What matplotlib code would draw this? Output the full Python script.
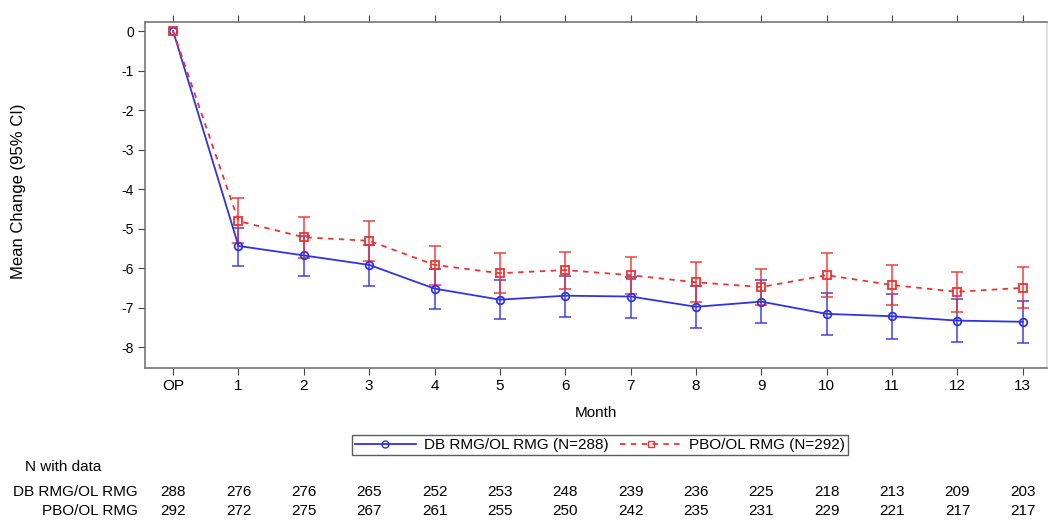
import matplotlib.pyplot as plt
from matplotlib.lines import Line2D

plt.rcParams['font.family'] = ['Liberation Sans', 'DejaVu Sans']

# data
months = ['OP', '1', '2', '3', '4', '5', '6', '7', '8', '9', '10', '11', '12', '13']
db_mean = [0, -5.44, -5.68, -5.92, -6.52, -6.80, -6.70, -6.72, -6.98, -6.85, -7.16, -7.22, -7.33, -7.36]
db_lo = [0, -5.95, -6.20, -6.45, -7.04, -7.28, -7.23, -7.27, -7.52, -7.40, -7.70, -7.80, -7.87, -7.90]
db_hi = [0, -4.98, -5.18, -5.42, -6.02, -6.30, -6.20, -6.22, -6.45, -6.30, -6.64, -6.66, -6.78, -6.84]
pbo_mean = [0, -4.81, -5.22, -5.31, -5.92, -6.13, -6.05, -6.18, -6.36, -6.48, -6.18, -6.43, -6.60, -6.50]
pbo_lo = [0, -5.37, -5.74, -5.83, -6.42, -6.63, -6.53, -6.66, -6.87, -6.93, -6.73, -6.93, -7.10, -7.02]
pbo_hi = [0, -4.23, -4.71, -4.81, -5.44, -5.63, -5.59, -5.71, -5.85, -6.03, -5.63, -5.92, -6.10, -5.97]
n_db = [288, 276, 276, 265, 252, 253, 248, 239, 236, 225, 218, 213, 209, 203]
n_pbo = [292, 272, 275, 267, 261, 255, 250, 242, 235, 231, 229, 221, 217, 217]

blue = '#3333dd'
red = '#ee3333'
fs = 11

fig = plt.figure(figsize=(10.52, 5.2), dpi=100)
ax = fig.add_axes([145 / 1052, 1 - 368 / 520, (1047 - 145) / 1052, (368 - 22) / 520])

x = list(range(len(months)))
db_err = [[m - l for m, l in zip(db_mean, db_lo)], [h - m for m, h in zip(db_mean, db_hi)]]
pbo_err = [[m - l for m, l in zip(pbo_mean, pbo_lo)], [h - m for m, h in zip(pbo_mean, pbo_hi)]]

ax.errorbar(x[1:], db_mean[1:], yerr=[db_err[0][1:], db_err[1][1:]], fmt='none',
            ecolor=blue, elinewidth=1.2, capsize=4.5, capthick=1.2, alpha=0.85)
ax.errorbar(x[1:], pbo_mean[1:], yerr=[pbo_err[0][1:], pbo_err[1][1:]], fmt='none',
            ecolor=red, elinewidth=1.2, capsize=4.5, capthick=1.2, alpha=0.85)
ax.plot(x, db_mean, color=blue, lw=1.3, marker='o', ms=5.5, mfc='none', mec=blue, mew=1.3)
ax.plot(x, pbo_mean, color=red, lw=1.3, ls=(0, (3, 3)), marker='s', ms=5.5, mfc='none',
        mec=red, mew=1.3)

ax.set_xlim(-0.43, 13.37)
ax.set_ylim(-8.53, 0.23)
ax.set_xticks(x)
ax.set_xticklabels(months, fontsize=fs)
ax.set_yticks(range(0, -9, -1))
ax.set_yticklabels([str(v) for v in range(0, -9, -1)], fontsize=fs - 1)
ax.tick_params(axis='x', direction='out', length=5, top=True, color='#444444', pad=3)
ax.tick_params(axis='y', direction='out', length=5, color='#444444', pad=3)
for s in ax.spines.values():
    s.set_color('#777777')
    s.set_linewidth(1.2)
ax.spines['right'].set_color('#dddddd')

ax.set_xlabel('Month', fontsize=fs, labelpad=9)
fig.text(19 / 1052, 1 - 191 / 520, 'Mean Change (95% CI)', rotation=90, fontsize=12,
         ha='center', va='center')

handles = [Line2D([], [], color=blue, lw=1.3, marker='o', ms=5, mfc='none', mec=blue),
           Line2D([], [], color=red, lw=1.3, ls=(0, (3, 3)), marker='s', ms=5, mfc='none', mec=red)]
fig.legend(handles, ['DB RMG/OL RMG (N=288)', 'PBO/OL RMG (N=292)'], loc='center',
           bbox_to_anchor=(600 / 1052, 1 - 445 / 520), ncol=2, fontsize=fs, frameon=True,
           fancybox=False, edgecolor='#333333', handlelength=4.0, columnspacing=0.8,
           borderpad=0.2, handletextpad=0.5, borderaxespad=0)

# N with data table
fig.text(25 / 1052, 1 - 467 / 520, 'N with data', fontsize=fs, ha='left', va='center')
fig.text(138 / 1052, 1 - 492 / 520, 'DB RMG/OL RMG', fontsize=fs, ha='right', va='center')
fig.text(138 / 1052, 1 - 511 / 520, 'PBO/OL RMG', fontsize=fs, ha='right', va='center')
for i in x:
    xf = fig.transFigure.inverted().transform(ax.transData.transform((i, 0)))[0]
    fig.text(xf, 1 - 492 / 520, str(n_db[i]), fontsize=fs, ha='center', va='center')
    fig.text(xf, 1 - 511 / 520, str(n_pbo[i]), fontsize=fs, ha='center', va='center')

fig.savefig('out.png', dpi=100)
